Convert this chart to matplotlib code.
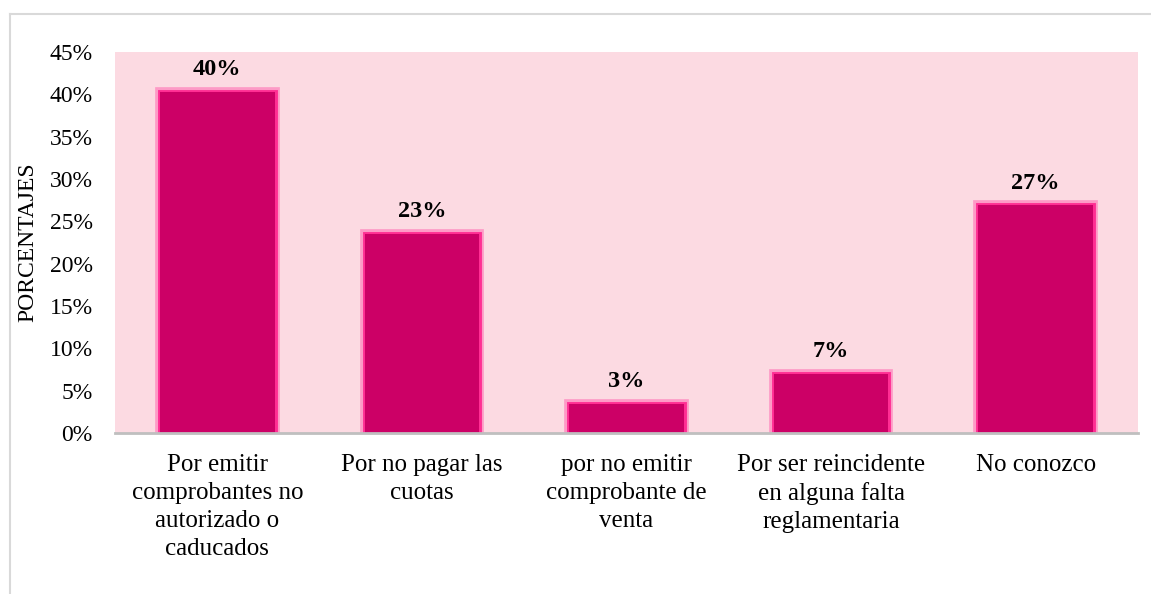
import matplotlib.pyplot as plt
from matplotlib.ticker import FuncFormatter
from matplotlib.lines import Line2D

# datos
categorias = ["Por emitir\ncomprobantes no\nautorizado o\ncaducados",
              "Por no pagar las\ncuotas",
              "por no emitir\ncomprobante de\nventa",
              "Por ser reincidente\nen alguna falta\nreglamentaria",
              "No conozco"]
valores = [0.403, 0.235, 0.034, 0.070, 0.269]
etiquetas = ["40%", "23%", "3%", "7%", "27%"]

plt.rcParams['font.family'] = ['Liberation Serif', 'DejaVu Serif']

fig = plt.figure(figsize=(11.51, 5.94), dpi=100)
ax = fig.add_axes([115/1151, 1 - 433/594, (1138 - 115)/1151, (433 - 52)/594])
ax.set_facecolor('#FCDAE2')

x = list(range(len(valores)))
ancho = 0.56

# brillo alrededor de las barras
ax.bar(x, valores, width=ancho, color='none', edgecolor='#FF4DA6', linewidth=7, alpha=0.45, zorder=2)
ax.bar(x, valores, width=ancho, color='none', edgecolor='#FF2E93', linewidth=3.5, alpha=1.0, zorder=2)
barras = ax.bar(x, valores, width=ancho, color='#CC0066', zorder=3)

for b, txt in zip(barras, etiquetas):
    ax.annotate(txt, (b.get_x() + b.get_width()/2, b.get_height()),
                xytext=(0, 16), textcoords='offset points', ha='center', va='center',
                fontsize=17.5, fontweight='bold', color='black', zorder=4)

ax.set_xlim(-0.5, len(valores) - 0.5)
ax.set_ylim(0, 0.45)
ax.set_yticks([i*0.05 for i in range(10)])
ax.yaxis.set_major_formatter(FuncFormatter(lambda v, p: "%d%%" % round(v*100)))
ax.set_xticks(x)
ax.set_xticklabels(categorias, fontsize=18, linespacing=1.35, va='top')
ax.tick_params(axis='y', length=0, pad=16, labelsize=17)
ax.tick_params(axis='x', length=0, pad=15)

for s in ['top', 'right', 'left']:
    ax.spines[s].set_visible(False)
ax.spines['bottom'].set_color('#BFBFBF')
ax.spines['bottom'].set_linewidth(2)
ax.spines['bottom'].set_zorder(5)

ax.set_ylabel('PORCENTAJES', fontsize=17)
ax.yaxis.set_label_coords(-0.075, 0.5)

# borde del area del grafico
fig.add_artist(Line2D([10/1151, 1], [1 - 14/594, 1 - 14/594], color='#D9D9D9', linewidth=1.5))
fig.add_artist(Line2D([10/1151, 10/1151], [0, 1 - 14/594], color='#D9D9D9', linewidth=1.5))

fig.savefig('out.png', dpi=100)
